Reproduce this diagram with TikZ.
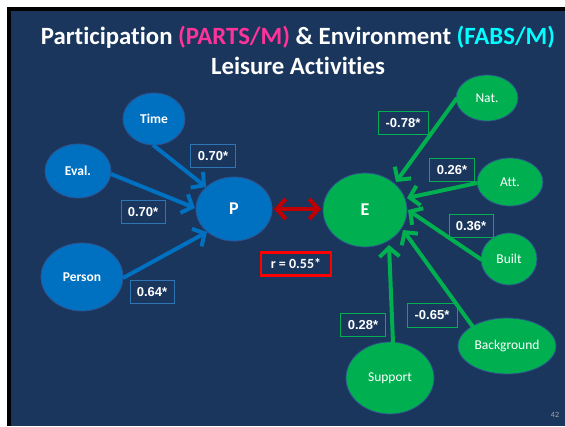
\documentclass[tikz,border=0pt]{standalone}
\usepackage{fontspec}
\setmainfont[Ligatures=NoCommon]{Carlito}
\newfontfamily\arialf{Liberation Sans}
\usetikzlibrary{arrows.meta,calc,shapes.geometric}
\definecolor{bgblue}{HTML}{1B365D}
\definecolor{nodeblue}{HTML}{0070C0}
\definecolor{nodegreen}{HTML}{00B050}
\definecolor{edgeline}{HTML}{2F528F}
\definecolor{lblblue}{HTML}{2E75B6}
\definecolor{arrred}{HTML}{C00000}
\definecolor{titlepink}{HTML}{FF3399}
\definecolor{titlecyan}{HTML}{00FFFF}
\tikzset{
  bnode/.style={ellipse, fill=nodeblue, draw=edgeline, line width=0.8pt, text=white, font=\bfseries\fontsize{13.5}{16}\selectfont, inner sep=0pt},
  gnode/.style={ellipse, fill=nodegreen, draw=edgeline, line width=0.8pt, text=white, font=\fontsize{13.5}{16}\selectfont, inner sep=0pt},
  bigtxt/.style={font=\bfseries\fontsize{18}{20}\selectfont},
  blbl/.style={draw=lblblue, line width=0.8pt, text=white, font=\arialf\bfseries\fontsize{13}{15}\selectfont, inner sep=0pt},
  glbl/.style={draw=nodegreen, line width=0.8pt, text=white, font=\arialf\bfseries\fontsize{13}{15}\selectfont, inner sep=0pt},
  barrow/.style={draw=nodeblue, line width=4pt, -{Straight Barb[length=9pt,width=20pt]}},
  garrow/.style={draw=nodegreen, line width=4pt, -{Straight Barb[length=9pt,width=20pt]}},
}
\begin{document}
\begin{tikzpicture}[x=1pt,y=-1pt]
\useasboundingbox (0,0) rectangle (565,426);
\fill[white] (0,0) rectangle (565,426);
\fill[black] (7,7) rectangle (565,426);
\fill[bgblue] (11,11) rectangle (565,426);
% title
\node[text=white, font=\bfseries\fontsize{24.8}{28}\selectfont] (t1) at (298,37) {Participation \textcolor{titlepink}{(PARTS/M)} \& Environment \textcolor{titlecyan}{(FABS/M)}};
\node[text=white, font=\bfseries\fontsize{24.8}{28}\selectfont] (t2) at (298,66) {Leisure Activities};
% blue nodes
\node[bnode, minimum width=62pt, minimum height=52pt] (time) at (154,119) {Time};
\node[bnode, minimum width=66pt, minimum height=54pt] (eval) at (78,171) {Eval.};
\node[bnode, minimum width=82pt, minimum height=68pt] (person) at (82,277) {Person};
\node[bnode, bigtxt, minimum width=76pt, minimum height=64pt] (P) at (234,209) {P};
% green nodes
\node[gnode, bigtxt, minimum width=84pt, minimum height=74pt] (E) at (365,210) {E};
\node[gnode, minimum width=62pt, minimum height=46pt] (nat) at (487,98) {Nat.};
\node[gnode, minimum width=66pt, minimum height=48pt] (att) at (510,182) {Att.};
\node[gnode, minimum width=56pt, minimum height=52pt] (built) at (509,259) {Built};
\node[gnode, minimum width=98pt, minimum height=56pt] (back) at (507,346) {Background};
\node[gnode, minimum width=88pt, minimum height=72pt] (supp) at (390,378) {Support};
% coordinates for arrow ends
\coordinate (pt1) at (206,187);
\coordinate (pt2) at (195,208);
\coordinate (pt3) at (207,232);
\coordinate (et1) at (396,182);
\coordinate (et2) at (407,198);
\coordinate (et3) at (408,210);
\coordinate (et4) at (403,230);
\coordinate (et5) at (389,245);
\coordinate (s1) at (153,145);
\coordinate (s2) at (111,174);
\coordinate (s3) at (123,278);
\coordinate (s4) at (457,98);
\coordinate (s5) at (477,183);
\coordinate (s6) at (482,260);
\coordinate (s7) at (473,327);
\coordinate (s8) at (393,343);
\coordinate (rl) at (274,209);
\coordinate (rr) at (321,209);
% blue arrows
\draw[barrow] (s1) -- (pt1);
\draw[barrow] (s2) -- (pt2);
\draw[barrow] (s3) -- (pt3);
% green arrows
\draw[garrow] (s4) -- (et1);
\draw[garrow] (s5) -- (et2);
\draw[garrow] (s6) -- (et3);
\draw[garrow] (s7) -- (et4);
\draw[garrow] (s8) -- (et5);
% red double arrow
\draw[draw=arrred, line width=4pt, {Straight Barb[length=9pt,width=20pt]}-{Straight Barb[length=9pt,width=20pt]}] (rl) -- (rr);
% labels
\node[blbl, minimum width=45pt, minimum height=23pt] (l1) at (213,156) {0.70*};
\node[blbl, minimum width=44pt, minimum height=23pt] (l2) at (143,212) {0.70*};
\node[blbl, minimum width=44pt, minimum height=23pt] (l3) at (152,292) {0.64*};
\node[glbl, minimum width=50pt, minimum height=23pt] (l4) at (403,123) {-0.78*};
\node[glbl, minimum width=45pt, minimum height=23pt] (l5) at (452,170) {0.26*};
\node[glbl, minimum width=44pt, minimum height=23pt] (l6) at (471,226) {0.36*};
\node[glbl, minimum width=45pt, minimum height=23pt] (l7) at (363,325) {0.28*};
\node[glbl, minimum width=50pt, minimum height=24pt] (l8) at (432,315) {-0.65*};
\node[draw=red, line width=2.5pt, text=white, font=\bfseries\fontsize{14}{16}\selectfont, minimum width=70pt, minimum height=23pt, inner sep=0pt] (r) at (296,264) {r = 0.55*};
\node[text=gray!70, font=\fontsize{8}{9}\selectfont] (pg) at (555,415) {42};
\end{tikzpicture}
\end{document}
